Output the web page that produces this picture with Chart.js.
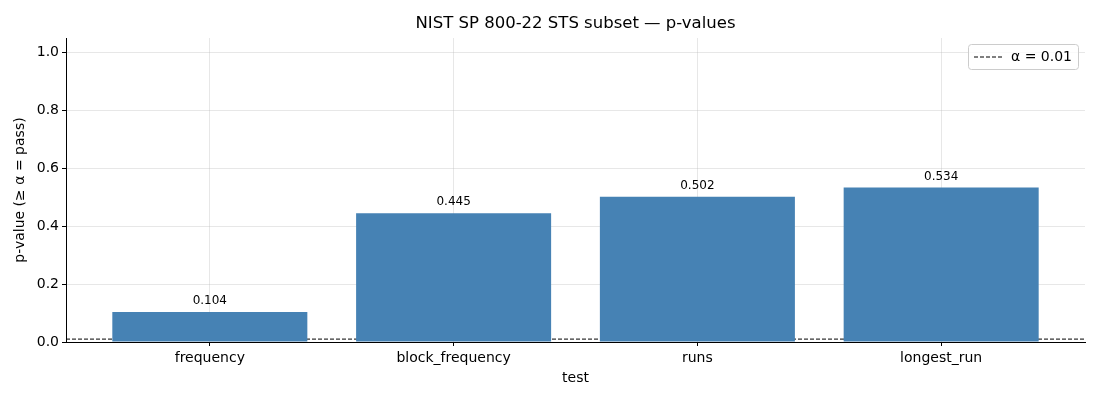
<!DOCTYPE html>
<html>
<head>
<meta charset="utf-8">
<script src="https://cdn.jsdelivr.net/npm/chart.js@4"></script>
<style>
  html, body { margin: 0; padding: 0; background: #fff; }
  #wrap { width: 1100px; height: 400px; }
</style>
</head>
<body>
<div id="wrap"><canvas id="myChart" width="1100" height="400"></canvas></div>
<script>
const tests = ['frequency', 'block_frequency', 'runs', 'longest_run'];
const pValues = [0.104, 0.445, 0.502, 0.534];
const alpha = 0.01;
const yTicks = [0.0, 0.2, 0.4, 0.6, 0.8, 1.0];
const chartTitle = 'NIST SP 800-22 STS subset — p-values';

const font = 'DejaVu Sans';
const gridColor = 'rgba(176,176,176,0.3)';

// value labels above each bar
const barLabels = {
  id: 'barLabels',
  afterDatasetsDraw(chart) {
    const ctx = chart.ctx;
    const meta = chart.getDatasetMeta(0);
    ctx.save();
    ctx.font = '12px "' + font + '"';
    ctx.fillStyle = '#000';
    ctx.textAlign = 'center';
    ctx.textBaseline = 'bottom';
    meta.data.forEach((bar, i) => {
      ctx.fillText(pValues[i].toFixed(3), bar.x, bar.y - 5);
    });
    ctx.restore();
  }
};

// title centred over the plot area, like matplotlib
const plotTitle = {
  id: 'plotTitle',
  afterDraw(chart) {
    const ctx = chart.ctx;
    const area = chart.chartArea;
    ctx.save();
    ctx.font = '16.5px "' + font + '"';
    ctx.fillStyle = '#000';
    ctx.textAlign = 'center';
    ctx.textBaseline = 'middle';
    ctx.fillText(chartTitle, (area.left + area.right) / 2, 24);
    ctx.restore();
  }
};

// matplotlib-like legend box in the upper right corner
const boxLegend = {
  id: 'boxLegend',
  afterDraw(chart) {
    const ctx = chart.ctx;
    const area = chart.chartArea;
    const w = 110, h = 25;
    const x = area.right - 7 - w, y = area.top + 6;
    ctx.save();
    ctx.fillStyle = 'rgba(255,255,255,0.8)';
    ctx.strokeStyle = '#cccccc';
    ctx.lineWidth = 1;
    ctx.beginPath();
    ctx.roundRect(x + 0.5, y + 0.5, w, h, 3);
    ctx.fill();
    ctx.stroke();
    ctx.strokeStyle = '#000';
    ctx.setLineDash([4, 2]);
    ctx.beginPath();
    ctx.moveTo(x + 6, y + h / 2 + 0.5);
    ctx.lineTo(x + 34, y + h / 2 + 0.5);
    ctx.stroke();
    ctx.setLineDash([]);
    ctx.fillStyle = '#000';
    ctx.font = '14px "' + font + '"';
    ctx.textBaseline = 'middle';
    ctx.fillText('α = ' + alpha, x + 43, y + h / 2 + 1);
    ctx.restore();
  }
};

const data = {
  datasets: [{
    type: 'bar',
    label: 'p-value',
    data: tests.map((t, i) => ({ x: i, y: pValues[i] })),
    backgroundColor: '#4682b4',
    borderWidth: 0,
    inflateAmount: 0,
    barPercentage: 0.8,
    categoryPercentage: 1.0
  },
  {
    type: 'line',
    label: 'α = ' + alpha,
    data: [{ x: -0.59, y: alpha }, { x: 3.59, y: alpha }],
    borderColor: '#000',
    borderWidth: 1,
    borderDash: [4, 2],
    pointRadius: 0,
    fill: false
  }]
};

const config = {
  type: 'bar',
  data: data,
  options: {
    responsive: false,
    animation: false,
    layout: { padding: { left: 6, right: 15, top: 38, bottom: 13 } },
    plugins: {
      legend: { display: false },
      tooltip: { enabled: false },
      title: { display: false }
    },
    scales: {
      x: {
        type: 'linear',
        min: -0.59,
        max: 3.59,
        offset: false,
        z: 1,
        afterFit(scale) { scale.height = 45; },
        afterBuildTicks(scale) { scale.ticks = tests.map((t, i) => ({ value: i })); },
        ticks: {
          color: '#000',
          font: { family: font, size: 14 },
          padding: 4,
          maxRotation: 0,
          autoSkip: false,
          callback: (v) => tests[v]
        },
        grid: { offset: false, color: gridColor, tickColor: '#000', tickLength: 4 },
        border: { color: '#000', width: 1 },
        title: {
          display: true,
          text: 'test',
          color: '#000',
          font: { family: font, size: 14 },
          padding: { top: 2, bottom: 0 }
        }
      },
      y: {
        min: 0,
        max: 1.05,
        z: 1,
        afterFit(scale) { scale.width = 60; },
        afterBuildTicks(scale) { scale.ticks = yTicks.map(v => ({ value: v })); },
        ticks: {
          color: '#000',
          font: { family: font, size: 14 },
          padding: 3,
          callback: (v) => v.toFixed(1)
        },
        grid: { color: gridColor, tickColor: '#000', tickLength: 4 },
        border: { color: '#000', width: 1 },
        title: {
          display: true,
          text: 'p-value (≥ α = pass)',
          color: '#000',
          font: { family: font, size: 14 },
          padding: { top: 6, bottom: 4 }
        }
      }
    }
  },
  plugins: [barLabels, plotTitle, boxLegend]
};

const canvasChart = document.getElementById('myChart');
const myChart = new Chart(canvasChart, config);
</script>
</body>
</html>
